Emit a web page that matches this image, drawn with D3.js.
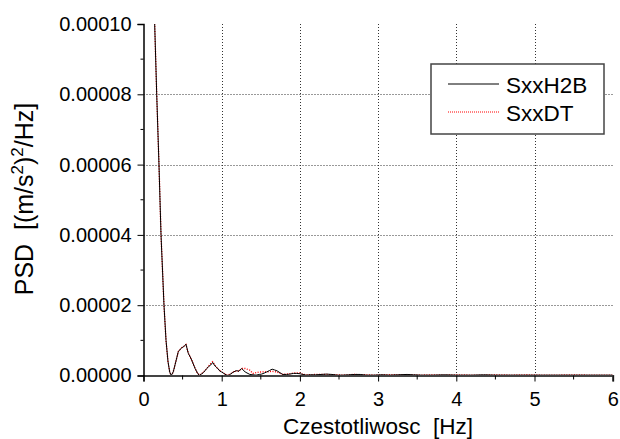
<!DOCTYPE html>
<html>
<head>
<meta charset="utf-8">
<script src="https://cdn.jsdelivr.net/npm/d3@7"></script>
<style>
  body { margin: 0; background: #fff; }
  svg { font-family: Arial, "Liberation Sans", sans-serif; display: block; }
  text { white-space: pre; }
</style>
</head>
<body>
<svg id="chart" width="620" height="439"></svg>
<script>
// frequency [Hz]
const freq = [
  0.12, 0.143, 0.169, 0.198, 0.224, 0.262, 0.288, 0.313, 0.335, 0.355,
  0.38, 0.403, 0.445, 0.488, 0.515, 0.543, 0.573, 0.595, 0.616, 0.66,
  0.69, 0.714, 0.765, 0.81, 0.83, 0.86, 0.885, 0.915, 0.936, 0.98,
  1.0, 1.04, 1.07, 1.1, 1.15, 1.19, 1.22, 1.255, 1.3, 1.36,
  1.4, 1.44, 1.48, 1.51, 1.545, 1.575, 1.61, 1.645, 1.675, 1.71,
  1.745, 1.78, 1.83, 1.87, 1.92, 1.96, 2.0, 2.04, 2.08, 2.13,
  2.2, 2.27, 2.34, 2.41, 2.48, 2.55, 2.62, 2.7, 2.77, 2.85,
  2.95, 3.05, 3.15, 3.25, 3.37, 3.45, 3.55, 3.7, 3.85, 4.0,
  4.2, 4.35, 4.5, 4.7, 4.9, 5.1, 5.3, 5.5, 5.7, 5.9, 6.0
]

// PSD [(m/s^2)^2/Hz]
const sxxH2B = [
  125e-6, 100e-6, 80e-6, 60e-6, 40e-6, 20e-6, 10e-6, 4e-6, 1e-6, 0,
  1e-6, 3e-6, 6.8e-6, 7.9e-6, 8.2e-6, 8.9e-6, 6.3e-6, 5.4e-6, 4.4e-6, 2e-6,
  0.7e-6, 0, 0.8e-6, 2e-6, 2.5e-6, 3e-6, 3.7e-6, 2.7e-6, 2.3e-6, 1.2e-6,
  1e-6, 0.4e-6, 0, 0.2e-6, 1e-6, 1.4e-6, 1.2e-6, 2e-6, 1e-6, 0.3e-6,
  0.2e-6, 0.1e-6, 0.3e-6, 0.4e-6, 0.7e-6, 1e-6, 1.4e-6, 1.8e-6, 1.6e-6, 1.3e-6,
  0.8e-6, 0.3e-6, 0.3e-6, 0.4e-6, 0.6e-6, 0.6e-6, 0.5e-6, 0.3e-6, 0.1e-6, 0.2e-6,
  0.2e-6, 0.3e-6, 0.4e-6, 0.3e-6, 0.1e-6, 0.1e-6, 0.2e-6, 0.3e-6, 0.3e-6, 0.1e-6,
  0.1e-6, 0.2e-6, 0.1e-6, 0.2e-6, 0.3e-6, 0.2e-6, 0.1e-6, 0.1e-6, 0.2e-6, 0.1e-6,
  0.1e-6, 0.2e-6, 0.1e-6, 0.1e-6, 0.1e-6, 0.1e-6, 0.1e-6, 0.1e-6, 0.1e-6, 0.1e-6, 0.1e-6
]

const sxxDT = [
  125e-6, 100e-6, 80e-6, 60e-6, 40e-6, 20e-6, 10e-6, 4e-6, 1e-6, 0,
  1e-6, 3e-6, 6.8e-6, 7.9e-6, 8.3e-6, 8.8e-6, 6.3e-6, 5.4e-6, 4.4e-6, 2e-6,
  0.7e-6, 0.1e-6, 0.9e-6, 2e-6, 2.6e-6, 3.4e-6, 3.9e-6, 2.9e-6, 2.3e-6, 1.3e-6,
  1e-6, 0.5e-6, 0.1e-6, 0.3e-6, 1e-6, 1.3e-6, 1.3e-6, 2e-6, 2e-6, 1.5e-6,
  0.6e-6, 0.8e-6, 1e-6, 1e-6, 1.1e-6, 1e-6, 1.1e-6, 1.2e-6, 1.1e-6, 1e-6,
  0.6e-6, 0.3e-6, 0.4e-6, 0.5e-6, 0.7e-6, 0.7e-6, 0.7e-6, 0.3e-6, 0.2e-6, 0.2e-6,
  0.3e-6, 0.3e-6, 0.3e-6, 0.2e-6, 0.2e-6, 0.1e-6, 0.2e-6, 0.3e-6, 0.2e-6, 0.2e-6,
  0.1e-6, 0.2e-6, 0.2e-6, 0.2e-6, 0.2e-6, 0.2e-6, 0.1e-6, 0.2e-6, 0.1e-6, 0.2e-6,
  0.1e-6, 0.1e-6, 0.2e-6, 0.1e-6, 0.2e-6, 0.1e-6, 0.1e-6, 0.2e-6, 0.1e-6, 0.1e-6, 0.1e-6
]

const xTicks = [0, 1, 2, 3, 4, 5, 6]
const xMinor = [0.5, 1.5, 2.5, 3.5, 4.5, 5.5]
const yTicks = [0, 2e-5, 4e-5, 6e-5, 8e-5, 1e-4]
const yMinor = [1e-5, 3e-5, 5e-5, 7e-5, 9e-5]
const seriesNames = ['SxxH2B', 'SxxDT']

const svg = d3.select('#chart')
const plotLeft = 143.5, plotRight = 612.7, plotTop = 24, plotBottom = 375.5

const x = d3.scaleLinear().domain([0, 6]).range([plotLeft, plotRight])
const y = d3.scaleLinear().domain([0, 1e-4]).range([plotBottom, plotTop])

// grid
const grid = svg.append('g')
  .attr('stroke', '#333')
  .attr('stroke-width', 1)
  .attr('stroke-dasharray', '1,2')
grid.selectAll('.gx').data(xTicks.slice(1, -1)).join('line')
  .attr('x1', d => Math.round(x(d)) + 0.5).attr('x2', d => Math.round(x(d)) + 0.5)
  .attr('y1', plotTop).attr('y2', plotBottom)
grid.selectAll('.gy').data(yTicks.slice(1, -1)).join('line')
  .attr('y1', d => Math.round(y(d)) + 0.5).attr('y2', d => Math.round(y(d)) + 0.5)
  .attr('x1', plotLeft).attr('x2', plotRight)

// curves
svg.append('clipPath').attr('id', 'clip')
  .append('rect').attr('x', plotLeft).attr('y', plotTop)
  .attr('width', plotRight - plotLeft).attr('height', plotBottom - plotTop)

const line = vals => d3.line()
  .x((d, i) => x(freq[i]))
  .y(d => y(d))(vals)

const plot = svg.append('g').attr('clip-path', 'url(#clip)')
plot.append('path').attr('d', line(sxxDT))
  .attr('fill', 'none').attr('stroke', '#f00').attr('stroke-width', 1.4)
  .attr('stroke-dasharray', '1,1.5')
plot.append('path').attr('d', line(sxxH2B))
  .attr('fill', 'none').attr('stroke', '#000').attr('stroke-width', 1)

// axes
const xAxis = svg.append('g').attr('transform', `translate(0,${plotBottom})`)
  .call(d3.axisBottom(x).tickValues(xTicks).tickFormat(d3.format('d')).tickSize(6).tickPadding(10))
xAxis.select('.domain').attr('stroke', '#444').attr('stroke-width', 2)
xAxis.selectAll('.tick line').attr('stroke', '#000')
xAxis.selectAll('text').attr('font-size', 20).attr('fill', '#000')
  .attr('font-family', 'Arial, "Liberation Sans", sans-serif')
svg.append('g').selectAll('line').data(xMinor).join('line')
  .attr('x1', d => x(d)).attr('x2', d => x(d))
  .attr('y1', plotBottom).attr('y2', plotBottom + 4).attr('stroke', '#000')

const yAxis = svg.append('g').attr('transform', `translate(${plotLeft},0)`)
  .call(d3.axisLeft(y).tickValues(yTicks).tickFormat(d3.format('.5f')).tickSize(6).tickPadding(6))
yAxis.select('.domain').attr('stroke', '#000').attr('stroke-width', 1.5)
yAxis.selectAll('.tick line').attr('stroke', '#000')
yAxis.selectAll('text').attr('font-size', 20).attr('fill', '#000')
  .attr('font-family', 'Arial, "Liberation Sans", sans-serif')
svg.append('g').selectAll('line').data(yMinor).join('line')
  .attr('y1', d => y(d)).attr('y2', d => y(d))
  .attr('x1', plotLeft - 3).attr('x2', plotLeft).attr('stroke', '#000')

// axis titles
svg.append('text')
  .attr('x', 378).attr('y', 434)
  .attr('text-anchor', 'middle').attr('font-size', 22.5)
  .text('Czestotliwosc  [Hz]')

const yTitle = svg.append('text')
  .attr('transform', 'translate(33,199) rotate(-90)')
  .attr('text-anchor', 'middle').attr('font-size', 25)
yTitle.append('tspan').text('PSD  [(m/s')
yTitle.append('tspan').attr('dy', -10).attr('font-size', 17).text('2')
yTitle.append('tspan').attr('dy', 10).text(')')
yTitle.append('tspan').attr('dy', -10).attr('font-size', 17).text('2')
yTitle.append('tspan').attr('dy', 10).text('/Hz]')

// legend
const legend = svg.append('g')
legend.append('rect')
  .attr('x', 431).attr('y', 64).attr('width', 173).attr('height', 70)
  .attr('fill', '#fff').attr('stroke', '#444').attr('stroke-width', 1.5)
const legendItems = legend.selectAll('.item').data(seriesNames).join('g')
  .attr('transform', (d, i) => `translate(0,${84 + i * 28})`)
legendItems.append('line')
  .attr('x1', 448).attr('x2', 499).attr('y1', 0).attr('y2', 0)
  .attr('stroke', (d, i) => i === 0 ? '#000' : '#f00')
  .attr('stroke-dasharray', (d, i) => i === 0 ? null : '1,1')
legendItems.append('text')
  .attr('x', 506).attr('y', 9)
  .attr('font-size', 22.5)
  .text(d => d)
</script>
</body>
</html>
